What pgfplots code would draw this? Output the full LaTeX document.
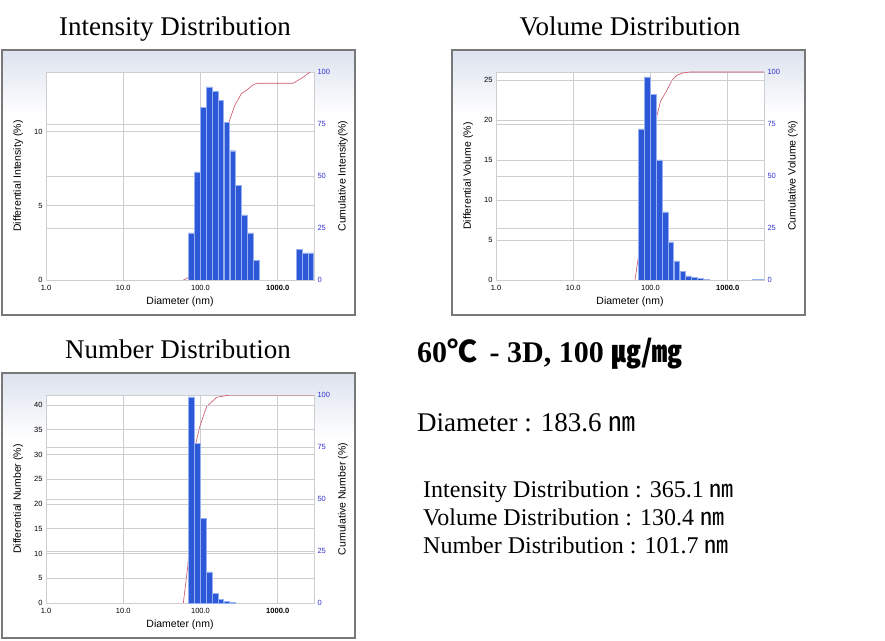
\documentclass[border=0pt]{standalone}
\usepackage{pgfplots}
\pgfplotsset{compat=1.18}
\usepackage{fontspec}
\setmainfont{Liberation Serif}
\newfontfamily\chartfont{Liberation Sans}
\newfontfamily\cjk{Noto Sans CJK KR}

\definecolor{barfill}{RGB}{45,88,215}
\definecolor{baredge}{RGB}{150,175,240}
\definecolor{cumred}{RGB}{205,80,100}
\definecolor{gridgray}{RGB}{205,205,210}
\definecolor{framegray}{RGB}{120,120,120}
\definecolor{rightblue}{RGB}{50,50,210}
\definecolor{basecol}{RGB}{110,100,200}
\definecolor{paneltop}{RGB}{220,226,238}

\newcommand\panel[2]{%
  \fill[white] (#1,#2) rectangle ++(353,265);
  \shade[top color=paneltop, bottom color=white] (#1,#2+200) rectangle (#1+353,#2+265);
  \draw[framegray, line width=1.5pt] (#1,#2) rectangle ++(353,265);
}

\begin{document}
\begin{tikzpicture}[x=1pt,y=1pt]
\useasboundingbox (0,0) rectangle (885,640);
\fill[white] (0,0) rectangle (885,640);

% panel frames
\panel{2}{325}
\panel{452}{325}
\panel{2}{2}

% titles
\node[anchor=base, inner sep=0] at (175,604) {\fontsize{27}{32}\selectfont Intensity Distribution};
\node[anchor=base, inner sep=0] at (630,604) {\fontsize{27}{32}\selectfont Volume Distribution};
\node[anchor=base, inner sep=0] at (178,281) {\fontsize{27}{32}\selectfont Number Distribution};

% summary text
\node[anchor=base west, inner sep=0] at (417,277) {\fontsize{30}{34}\selectfont\bfseries 60{\cjk ℃} \,- 3D, 100 {\cjk ㎍/㎎}};
\node[anchor=base west, inner sep=0] at (417,208) {\fontsize{27}{32}\selectfont Diameter : 183.6 {\cjk ㎚}};
\node[anchor=base west, inner sep=0] at (423,143) {\fontsize{24}{28}\selectfont Intensity Distribution : 365.1 {\cjk ㎚}};
\node[anchor=base west, inner sep=0] at (423,115) {\fontsize{24}{28}\selectfont Volume Distribution : 130.4 {\cjk ㎚}};
\node[anchor=base west, inner sep=0] at (423,87) {\fontsize{24}{28}\selectfont Number Distribution : 101.7 {\cjk ㎚}};

% ---------- Intensity ----------
\begin{semilogxaxis}[at={(46pt,360pt)}, anchor=south west, scale only axis, width=268pt, height=208pt,
  xmin=1, xmax=2950, ymin=0, ymax=100,
  tick style={draw=none},
  tick label style={font=\chartfont\fontsize{7.5}{8}\selectfont},
  xticklabel style={yshift=-1.5pt},
  /pgf/number format/assume math mode=true,
  grid style={gridgray, line width=0.8pt},
  label style={font=\chartfont\fontsize{10.5}{12}\selectfont},
  ytick={0,25,50,75,100}, yticklabel pos=right, yticklabel style={rightblue},
  xtick={1,10,100,1000}, xticklabels={1.0,10.0,100.0,\textbf{1000.0}},
  xmajorgrids, ymajorgrids, axis line style={gridgray},
  axis background/.style={fill=white},
  xlabel={Diameter (nm)}, ylabel={Cumulative Intensity(\%)},
  x label style={at={(axis description cs:0.5,-0.105)}, anchor=center},
  y label style={at={(axis description cs:1.108,0.5)}, anchor=center}]
  \addplot[basecol, line width=0.8pt] coordinates {(1,0) (2950,0)};
  \addplot[cumred, line width=0.6pt] coordinates {
    (60,0) (66,0.6) (72,1.8) (83,4.5) (99,12) (118,24) (141,37) (168,50)
    (200,62) (234,76) (279,84.1) (340,89.7) (398,91.3) (470,93.6) (537,94.6)
    (1585,94.6) (2100,97.3) (2630,100)};
\end{semilogxaxis}
\begin{semilogxaxis}[at={(46pt,360pt)}, anchor=south west, scale only axis, width=268pt, height=208pt,
  xmin=1, xmax=2950, ymin=0, ymax=14, ytick={0,5,10},
  tick style={draw=none},
  tick label style={font=\chartfont\fontsize{7.5}{8}\selectfont},
  /pgf/number format/assume math mode=true,
  grid style={gridgray, line width=0.8pt},
  label style={font=\chartfont\fontsize{10.5}{12}\selectfont},
  axis line style={draw=none}, xtick=\empty, ytick pos=left, ymajorgrids,
  ylabel={Differential Intensity (\%)},
  y label style={at={(axis description cs:-0.104,0.5)}, anchor=center},
  ybar, bar width=5.6pt, bar shift=0pt]
  \addplot[fill=barfill, draw=baredge, line width=0.4pt] coordinates {
    (76,3.17) (91,7.28) (108,11.6) (129,13.0) (154,12.7) (183,12.1)
    (218,10.6) (260,8.7) (310,6.36) (370,4.38) (441,3.17) (525,1.34)
    (1900,2.05) (2256,1.83) (2673,1.83)};
\end{semilogxaxis}

% ---------- Volume ----------
\begin{semilogxaxis}[at={(496pt,360pt)}, anchor=south west, scale only axis, width=268pt, height=208pt,
  xmin=1, xmax=2950, ymin=0, ymax=100,
  tick style={draw=none},
  tick label style={font=\chartfont\fontsize{7.5}{8}\selectfont},
  xticklabel style={yshift=-1.5pt},
  /pgf/number format/assume math mode=true,
  grid style={gridgray, line width=0.8pt},
  label style={font=\chartfont\fontsize{10.5}{12}\selectfont},
  ytick={0,25,50,75,100}, yticklabel pos=right, yticklabel style={rightblue},
  xtick={1,10,100,1000}, xticklabels={1.0,10.0,100.0,\textbf{1000.0}},
  xmajorgrids, ymajorgrids, axis line style={gridgray},
  axis background/.style={fill=white},
  xlabel={Diameter (nm)}, ylabel={Cumulative Volume (\%)},
  x label style={at={(axis description cs:0.5,-0.105)}, anchor=center},
  y label style={at={(axis description cs:1.108,0.5)}, anchor=center}]
  \addplot[basecol, line width=0.8pt] coordinates {(1,0) (2950,0)};
  \addplot[cumred, line width=0.6pt] coordinates {
    (63,0) (71,13) (76,20) (83,32) (91,46) (100,62) (117,76.8) (135,86)
    (162,91) (190,96) (219,98.4) (260,99.5) (324,100) (2950,100)};
\end{semilogxaxis}
\begin{semilogxaxis}[at={(496pt,360pt)}, anchor=south west, scale only axis, width=268pt, height=208pt,
  xmin=1, xmax=2950, ymin=0, ymax=26, ytick={0,5,10,15,20,25},
  tick style={draw=none},
  tick label style={font=\chartfont\fontsize{7.5}{8}\selectfont},
  /pgf/number format/assume math mode=true,
  grid style={gridgray, line width=0.8pt},
  label style={font=\chartfont\fontsize{10.5}{12}\selectfont},
  axis line style={draw=none}, xtick=\empty, ytick pos=left, ymajorgrids,
  ylabel={Differential Volume (\%)},
  y label style={at={(axis description cs:-0.104,0.5)}, anchor=center},
  ybar, bar width=5.6pt, bar shift=0pt]
  \addplot[fill=barfill, draw=baredge, line width=0.4pt] coordinates {
    (76,18.9) (91,25.4) (108,23.2) (129,15.0) (154,8.5) (183,4.77)
    (218,2.4) (260,1.12) (310,0.5) (370,0.29) (441,0.17) (525,0.07)
    (2256,0.1) (2673,0.1)};
\end{semilogxaxis}

% ---------- Number ----------
\begin{semilogxaxis}[at={(46pt,37pt)}, anchor=south west, scale only axis, width=268pt, height=208pt,
  xmin=1, xmax=2950, ymin=0, ymax=100,
  tick style={draw=none},
  tick label style={font=\chartfont\fontsize{7.5}{8}\selectfont},
  xticklabel style={yshift=-1.5pt},
  /pgf/number format/assume math mode=true,
  grid style={gridgray, line width=0.8pt},
  label style={font=\chartfont\fontsize{10.5}{12}\selectfont},
  ytick={0,25,50,75,100}, yticklabel pos=right, yticklabel style={rightblue},
  xtick={1,10,100,1000}, xticklabels={1.0,10.0,100.0,\textbf{1000.0}},
  xmajorgrids, ymajorgrids, axis line style={gridgray},
  axis background/.style={fill=white},
  xlabel={Diameter (nm)}, ylabel={Cumulative Number (\%)},
  x label style={at={(axis description cs:0.5,-0.105)}, anchor=center},
  y label style={at={(axis description cs:1.108,0.5)}, anchor=center}]
  \addplot[basecol, line width=0.8pt] coordinates {(1,0) (2950,0)};
  \addplot[cumred, line width=0.6pt] coordinates {
    (60,0) (68.5,17.6) (75,40) (81,62) (87,76.8) (98,84.8) (120,94.4)
    (162,98.9) (240,100) (2950,100)};
\end{semilogxaxis}
\begin{semilogxaxis}[at={(46pt,37pt)}, anchor=south west, scale only axis, width=268pt, height=208pt,
  xmin=1, xmax=2950, ymin=0, ymax=42, ytick={0,5,10,15,20,25,30,35,40},
  tick style={draw=none},
  tick label style={font=\chartfont\fontsize{7.5}{8}\selectfont},
  /pgf/number format/assume math mode=true,
  grid style={gridgray, line width=0.8pt},
  label style={font=\chartfont\fontsize{10.5}{12}\selectfont},
  axis line style={draw=none}, xtick=\empty, ytick pos=left, ymajorgrids,
  ylabel={Differential Number (\%)},
  y label style={at={(axis description cs:-0.104,0.5)}, anchor=center},
  ybar, bar width=5.6pt, bar shift=0pt]
  \addplot[fill=barfill, draw=baredge, line width=0.4pt] coordinates {
    (76,41.6) (91,32.2) (108,17.1) (129,6.3) (154,2.0) (183,0.7)
    (218,0.3) (260,0.1)};
\end{semilogxaxis}
\end{tikzpicture}
\end{document}
